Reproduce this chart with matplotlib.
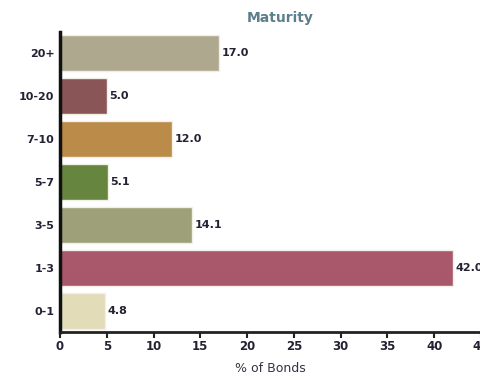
import matplotlib.pyplot as plt

categories = ['20+', '10-20', '7-10', '5-7', '3-5', '1-3', '0-1']
values = [17.0, 5.0, 12.0, 5.1, 14.1, 42.0, 4.8]
colors = ['#aea88e', '#8a5556', '#bb8b49', '#66853f', '#9da078', '#a8586a', '#e2dcb9']
xticks = [0, 5, 10, 15, 20, 25, 30, 35, 40, 45]

fig = plt.figure(figsize=(4.81, 3.80), dpi=100)
ax = fig.add_axes([60 / 481, 48 / 380, 421 / 481, 300 / 380])

pos = list(range(len(categories)))[::-1]
ax.barh(pos, values, height=0.84, color=colors, edgecolor='#f2efe6', linewidth=1)

# value labels, the last one runs off the right edge like the original
for p, v in zip(pos, values):
    ax.text(v + 0.3, p, f'{v:.1f}', va='center', ha='left', fontsize=8,
            fontweight='bold', color='#222233')

ax.set_yticks(pos)
ax.set_yticklabels(categories, fontsize=8, fontweight='bold', color='#222233')
ax.tick_params(axis='y', length=0, pad=4)
ax.set_xticks(xticks)
ax.set_xticklabels([str(t) for t in xticks], fontsize=8.5, fontweight='bold',
                   color='#222233')
ax.tick_params(axis='x', length=4, width=1.5, color='#222222', pad=2)
ax.set_xlim(0, 45)
ax.set_ylim(-0.5, len(categories) - 0.5)

for s in ['top', 'right']:
    ax.spines[s].set_visible(False)
ax.spines['left'].set_linewidth(2.5)
ax.spines['left'].set_color('#111111')
ax.spines['bottom'].set_linewidth(2)
ax.spines['bottom'].set_color('#222222')

ax.set_xlabel('% of Bonds', fontsize=9, color='#333344', labelpad=6)
fig.text(280 / 481, 1 - 18 / 380, 'Maturity', ha='center', va='center',
         fontsize=10, fontweight='semibold', color='#5c7f8c')

plt.savefig('out.png', dpi=100)
